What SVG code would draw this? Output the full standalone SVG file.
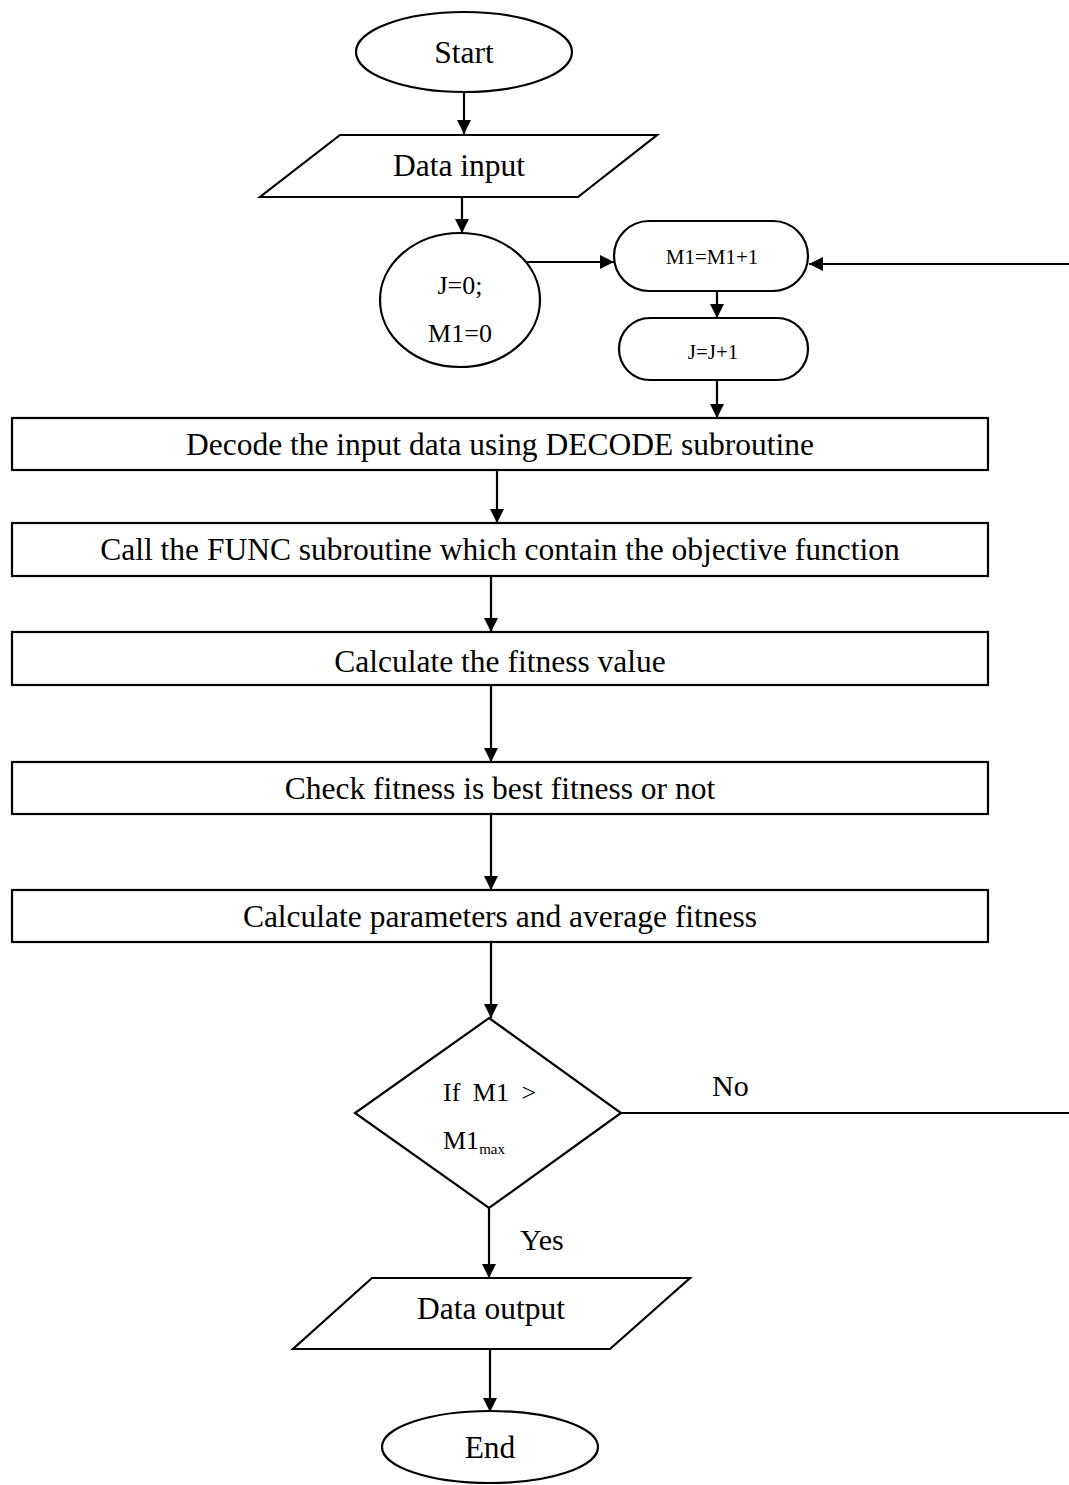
<svg xmlns="http://www.w3.org/2000/svg" width="1069" height="1485" viewBox="0 0 1069 1485">
<defs>
<marker id="ah" viewBox="0 0 14 14" refX="14" refY="7" markerWidth="14" markerHeight="14" markerUnits="userSpaceOnUse" orient="auto">
<path d="M0,0 L14,7 L0,14 Z" fill="#000"/>
</marker>
</defs>
<style>
.s{fill:#fff;stroke:#000;stroke-width:2.2}
.t{font-family:"Liberation Serif","Times New Roman",serif;font-size:31.5px;fill:#000;text-anchor:middle}
.m{font-family:"Liberation Serif","Times New Roman",serif;font-size:26px;fill:#000}
.l{font-family:"Liberation Serif","Times New Roman",serif;font-size:30px;fill:#000}
.sm{font-family:"Liberation Serif","Times New Roman",serif;font-size:21px;fill:#000;text-anchor:middle}
.c{fill:none;stroke:#000;stroke-width:2.2}
</style>
<rect width="1069" height="1485" fill="#fff"/>
<g id="connectors">
<line class="c" x1="464" y1="93" x2="464" y2="134" marker-end="url(#ah)"/>
<line class="c" x1="462" y1="197" x2="462" y2="233" marker-end="url(#ah)"/>
<line class="c" x1="525" y1="262" x2="614" y2="262" marker-end="url(#ah)"/>
<line class="c" x1="1069" y1="264" x2="809" y2="264" marker-end="url(#ah)"/>
<line class="c" x1="717" y1="291" x2="717" y2="318" marker-end="url(#ah)"/>
<line class="c" x1="717" y1="380" x2="717" y2="418" marker-end="url(#ah)"/>
<line class="c" x1="497" y1="470" x2="497" y2="523" marker-end="url(#ah)"/>
<line class="c" x1="491" y1="576" x2="491" y2="632" marker-end="url(#ah)"/>
<line class="c" x1="491" y1="685" x2="491" y2="762" marker-end="url(#ah)"/>
<line class="c" x1="491" y1="814" x2="491" y2="890" marker-end="url(#ah)"/>
<line class="c" x1="491" y1="942" x2="491" y2="1018" marker-end="url(#ah)"/>
<line class="c" x1="621" y1="1113" x2="1069" y2="1113"/>
<line class="c" x1="489" y1="1208" x2="489" y2="1278" marker-end="url(#ah)"/>
<line class="c" x1="490" y1="1349" x2="490" y2="1412" marker-end="url(#ah)"/>
<text class="l" x="712" y="1096">No</text>
<text class="l" x="520" y="1250">Yes</text>
</g>
<g id="start">
<ellipse class="s" cx="464" cy="52" rx="108" ry="40"/>
<text class="t" x="464" y="63">Start</text>
</g>
<g id="datainput">
<polygon class="s" points="340,135 657,135 578,197 260,197"/>
<text class="t" x="459" y="176">Data input</text>
</g>
<g id="init">
<ellipse class="s" cx="460" cy="300" rx="80" ry="67"/>
<text class="m" x="460" y="294" text-anchor="middle">J=0;</text>
<text class="m" x="460" y="342" text-anchor="middle">M1=0</text>
</g>
<g id="m1inc">
<rect class="s" x="614" y="221" width="194" height="70" rx="35" ry="35"/>
<text class="sm" x="712" y="264">M1=M1+1</text>
</g>
<g id="jinc">
<rect class="s" x="619" y="318" width="189" height="62" rx="31" ry="31"/>
<text class="sm" x="713" y="359">J=J+1</text>
</g>
<g id="decode">
<rect class="s" x="12" y="418" width="976" height="52"/>
<text class="t" x="500" y="455">Decode the input data using DECODE subroutine</text>
</g>
<g id="func">
<rect class="s" x="12" y="523" width="976" height="53"/>
<text class="t" x="500" y="560">Call the FUNC subroutine which contain the objective function</text>
</g>
<g id="fitness">
<rect class="s" x="12" y="632" width="976" height="53"/>
<text class="t" x="500" y="672">Calculate the fitness value</text>
</g>
<g id="check">
<rect class="s" x="12" y="762" width="976" height="52"/>
<text class="t" x="500" y="799">Check fitness is best fitness or not</text>
</g>
<g id="params">
<rect class="s" x="12" y="890" width="976" height="52"/>
<text class="t" x="500" y="927">Calculate parameters and average fitness</text>
</g>
<g id="decision">
<polygon class="s" points="489,1018 621,1113 489,1208 355,1113"/>
<text class="m" x="443" y="1101" word-spacing="6">If M1 &gt;</text>
<text class="m" x="443" y="1149">M1<tspan font-size="15" dy="5">max</tspan></text>
</g>
<g id="dataoutput">
<polygon class="s" points="372,1278 690,1278 610,1349 293,1349"/>
<text class="t" x="491" y="1319">Data output</text>
</g>
<g id="end">
<ellipse class="s" cx="490" cy="1447" rx="108" ry="36"/>
<text class="t" x="490" y="1458">End</text>
</g>
</svg>
